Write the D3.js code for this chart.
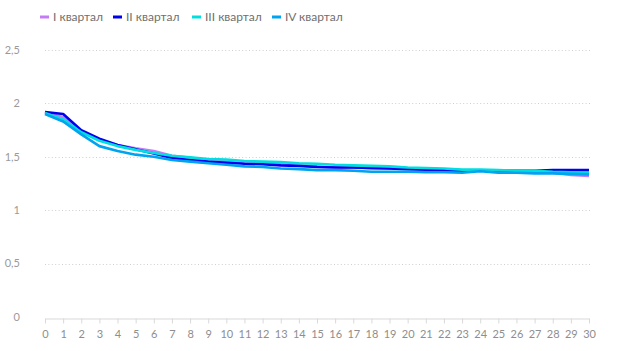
<!DOCTYPE html>
<html><head><meta charset="utf-8">
<script src="https://cdn.jsdelivr.net/npm/d3@7"></script>
<style>body{margin:0;background:#fff;} svg{display:block;font-family:Lato,"Open Sans",sans-serif;}</style>
</head><body><svg id="c" width="640" height="351"></svg>
<script>
const days = d3.range(0, 31);
const seriesNames = ["I квартал", "II квартал", "III квартал", "IV квартал"];
const colors = ["#c47cf6", "#0000ee", "#00dede", "#00a3f0"];
const q1 = [1.92,1.87,1.74,1.66,1.61,1.58,1.555,1.51,1.49,1.465,1.455,1.44,1.44,1.43,1.42,1.41,1.40,1.40,1.39,1.39,1.385,1.38,1.375,1.37,1.37,1.37,1.36,1.36,1.35,1.33,1.32];
const q2 = [1.92,1.90,1.75,1.67,1.61,1.57,1.53,1.49,1.47,1.455,1.445,1.435,1.43,1.42,1.415,1.405,1.40,1.40,1.395,1.39,1.385,1.38,1.375,1.37,1.37,1.37,1.37,1.37,1.375,1.375,1.375];
const q3 = [1.91,1.85,1.73,1.65,1.60,1.565,1.535,1.51,1.495,1.48,1.475,1.46,1.455,1.45,1.44,1.435,1.425,1.42,1.415,1.41,1.40,1.395,1.39,1.38,1.38,1.375,1.37,1.37,1.36,1.355,1.35];
const q4 = [1.90,1.83,1.71,1.60,1.555,1.52,1.50,1.47,1.455,1.44,1.425,1.41,1.405,1.39,1.385,1.375,1.375,1.37,1.36,1.36,1.36,1.355,1.355,1.35,1.365,1.35,1.35,1.345,1.345,1.34,1.335];
const yTicks = [0, 0.5, 1, 1.5, 2, 2.5];
const yTickLabels = ["0", "0,5", "1", "1,5", "2", "2,5"];
const allSeries = [q1, q2, q3, q4];

const svg = d3.select("#c");
const x = d3.scaleLinear().domain([0, 30]).range([45, 589]);
const y = d3.scaleLinear().domain([0, 2.5]).range([317, 50]);

// gridlines
svg.append("g").selectAll("line").data(yTicks.filter(d => d > 0)).join("line")
  .attr("x1", 45).attr("x2", 591)
  .attr("y1", d => Math.round(y(d)) + 0.5).attr("y2", d => Math.round(y(d)) + 0.5)
  .attr("stroke", "#cfcfcf").attr("stroke-width", 1).attr("stroke-dasharray", "1,2.4");

// y labels
svg.append("g").selectAll("text").data(yTicks).join("text")
  .attr("x", 20).attr("y", d => y(d)).attr("dy", "0.35em")
  .attr("text-anchor", "end").attr("fill", "#9a9a9a").attr("font-size", 11)
  .text((d, i) => yTickLabels[i]);

// x axis
const xAxis = d3.axisBottom(x).tickValues(days).tickSize(5).tickSizeOuter(0).tickPadding(7).tickFormat(d3.format("d"));
const gx = svg.append("g").attr("transform", "translate(0,318.5)").call(xAxis);
gx.select(".domain").attr("stroke", "#d9d9d9");
gx.selectAll(".tick line").attr("stroke", "#d9d9d9");
gx.selectAll(".tick text").attr("fill", "#8e8e8e").attr("font-size", 11).attr("font-family", "Lato,'Open Sans',sans-serif");

// lines
const line = d3.line().x((d, i) => x(days[i])).y(d => y(d));
svg.append("g").selectAll("path").data(allSeries).join("path")
  .attr("d", line).attr("fill", "none")
  .attr("stroke", (d, i) => colors[i]).attr("stroke-width", 2.6)
  .attr("stroke-linejoin", "round").attr("stroke-linecap", "butt");

// legend
const legendX = [40, 113, 192, 272];
const lg = svg.append("g").selectAll("g").data(seriesNames).join("g")
  .attr("transform", (d, i) => `translate(${legendX[i]},17)`);
lg.append("line").attr("x1", 0).attr("x2", 9).attr("y1", 0).attr("y2", 0)
  .attr("stroke", (d, i) => colors[i]).attr("stroke-width", 3);
lg.append("text").attr("x", 13).attr("y", 0).attr("dy", "0.35em")
  .attr("fill", "#6f6f6f").attr("font-size", 12).text(d => d);
</script></body></html>
